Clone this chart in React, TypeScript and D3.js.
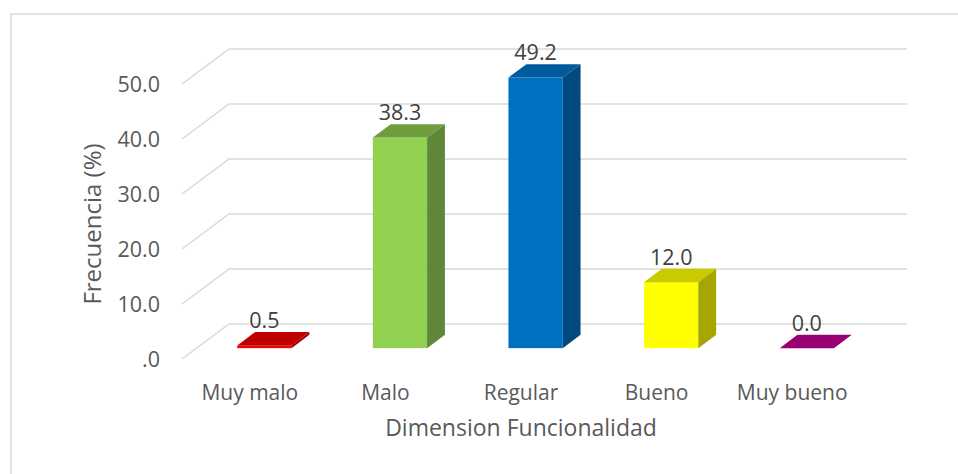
import React from 'react';
import * as d3 from 'd3';

const categories = ['Muy malo', 'Malo', 'Regular', 'Bueno', 'Muy bueno'];
const values = [0.5, 38.3, 49.2, 12.0, 0.0];
const valueLabels = ['0.5', '38.3', '49.2', '12.0', '0.0'];
const frontColors = ['#F00000', '#92D050', '#0070C0', '#FFFF00', '#A3007A'];
const topColors = ['#C00000', '#6F9D3C', '#005A9C', '#CACA00', '#990073'];
const sideColors = ['#9A0000', '#61883A', '#004A80', '#A6A600', '#7A005C'];
const yTicks = [0, 10, 20, 30, 40, 50];
const yTickLabels = ['.0', '10.0', '20.0', '30.0', '40.0', '50.0'];

const W = 958;
const H = 474;
const plotLeft = 182;
const plotRight = 860;
const floorY = 359;
const DX = 47; // depth of the floor, x
const DY = 35; // depth of the floor, y
const d0 = 0.31; // bar front depth fraction
const d1 = 0.69; // bar back depth fraction
const font = '"Open Sans", "Noto Sans", sans-serif';
const textColor = '#595959';

export default function App() {
  const x = d3.scaleBand<string>()
    .domain(categories)
    .range([plotLeft, plotRight])
    .paddingInner(0.6)
    .paddingOuter(0.3);

  const y = d3.scaleLinear().domain([0, 50]).range([floorY, floorY - 275]);

  const bdx = (d1 - d0) * DX;
  const bdy = (d1 - d0) * DY;

  return (
    <div style={{ position: 'absolute', left: 0, top: 0 }}>
      <svg width={W} height={H} style={{ display: 'block', background: '#fff' }}>
        <rect x={11} y={14} width={W} height={H} fill="#fff" stroke="#D9D9D9" strokeWidth={1.5} />

        {/* gridlines: slanted on the side wall, flat on the back wall */}
        {yTicks.map((t) => {
          const yy = y(t);
          return (
            <polyline
              key={t}
              points={`${plotLeft},${yy} ${plotLeft + DX},${yy - DY} ${plotRight + DX},${yy - DY}`}
              fill="none"
              stroke="#D9D9D9"
              strokeWidth={1.5}
            />
          );
        })}

        {yTicks.map((t, i) => (
          <text
            key={t}
            x={160}
            y={y(t)}
            dy="0.36em"
            textAnchor="end"
            fontFamily={font}
            fontSize={21.5}
            fill={textColor}
          >
            {yTickLabels[i]}
          </text>
        ))}

        {categories.map((c, i) => {
          const w = x.bandwidth();
          const x0 = (x(c) ?? 0) + d0 * DX;
          const yBot = floorY - d0 * DY;
          const h = y(0) - y(values[i]);
          const yTop = yBot - h;
          return (
            <g key={c}>
              <rect x={x0} y={yTop} width={w} height={h} fill={frontColors[i]} />
              <polygon
                points={`${x0},${yTop} ${x0 + w},${yTop} ${x0 + w + bdx},${yTop - bdy} ${x0 + bdx},${yTop - bdy}`}
                fill={topColors[i]}
              />
              <polygon
                points={`${x0 + w},${yTop} ${x0 + w + bdx},${yTop - bdy} ${x0 + w + bdx},${yBot - bdy} ${x0 + w},${yBot}`}
                fill={sideColors[i]}
              />
              <text
                x={x0 + w / 2}
                y={yTop - bdy - 4}
                textAnchor="middle"
                fontFamily={font}
                fontSize={21.5}
                fill="#404040"
              >
                {valueLabels[i]}
              </text>
            </g>
          );
        })}

        {categories.map((c) => (
          <text
            key={c}
            x={(x(c) ?? 0) + x.bandwidth() / 2}
            y={392}
            dy="0.36em"
            textAnchor="middle"
            fontFamily={font}
            fontSize={21}
            fill={textColor}
          >
            {c}
          </text>
        ))}

        <text
          x={521}
          y={428}
          dy="0.36em"
          textAnchor="middle"
          fontFamily={font}
          fontSize={23}
          fill={textColor}
        >
          Dimension Funcionalidad
        </text>

        <text
          transform="translate(92,224) rotate(-90)"
          dy="0.36em"
          textAnchor="middle"
          fontFamily={font}
          fontSize={24}
          fill={textColor}
        >
          Frecuencia (%)
        </text>
      </svg>
    </div>
  );
}
